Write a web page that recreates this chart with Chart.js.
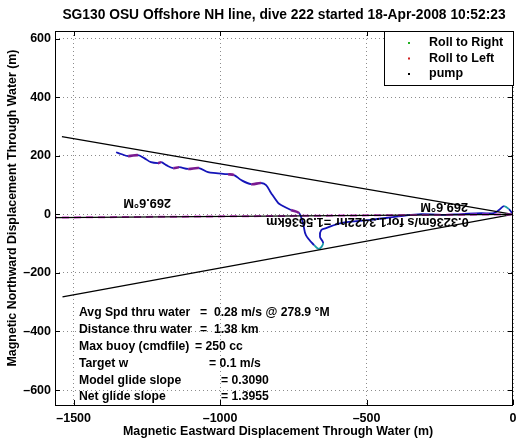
<!DOCTYPE html>
<html>
<head>
<meta charset="utf-8">
<script src="https://cdn.jsdelivr.net/npm/chart.js@4/dist/chart.umd.min.js"></script>
<style>
html, body { margin: 0; padding: 0; background: #fff; }
#wrap { width: 525px; height: 442px; }
</style>
</head>
<body>
<div id="wrap"><canvas id="diveChart" width="525" height="442"></canvas></div>
<script>
// glider track, metres east / north of dive start
const trackX = [0, -14, -31, -48, -65, -109, -177, -246, -314, -382, -485, -587, -638, -655, -659, -648, -662, -679, -707, -717, -730, -758, -792, -802, -826, -843, -860, -894, -928, -952, -973, -1014, -1041, -1072, -1109, -1140, -1160, -1184, -1201, -1212, -1236, -1259, -1280, -1314, -1338, -1355];
const trackY = [0, 18, 28, 15, 4, 4, 1, -2, 1, -6, -19, -30, -47, -54, -77, -98, -118, -105, -71, -30, 4, 15, 32, 39, 73, 100, 107, 103, 117, 134, 137, 141, 144, 158, 155, 161, 158, 168, 178, 175, 178, 192, 202, 199, 206, 212];
const rollLeftIdx = [20, 26, 29, 33, 35, 38, 42];
const turnIdx = [1, 15, 16];

// glide cone and current heading lines
const upperX = [0, -1540];
const upperY = [0, 265];
const lowerX = [0, -1538];
const lowerY = [0, -282];
const headingX = [0, -1563.6];
const headingY = [0, -10.9];

const xTicks = [-1500, -1000, -500, 0];
const yTicks = [-600, -400, -200, 0, 200, 400, 600];

const legendLabels = ['Roll to Right', 'Roll to Left', 'pump'];
const legendColors = ['#22b022', '#d02020', '#000000'];

const statLabels = ['Avg Spd thru water', 'Distance thru water', 'Max buoy (cmdfile)', 'Target w', 'Model glide slope', 'Net glide slope'];
const statValues = ['=  0.28 m/s @ 278.9 \u00b0M', '=  1.38 km', '= 250 cc', '= 0.1 m/s', '= 0.3090', '= 1.3955'];

const titleText = 'SG130 OSU Offshore NH line, dive 222 started 18-Apr-2008 10:52:23';
const xTitle = 'Magnetic Eastward Displacement Through Water (m)';
const yTitle = 'Magnetic Northward Displacement Through Water (m)';

const FONT = '"Liberation Sans", Arial, Helvetica, sans-serif';

function pts(xs, ys) {
    return xs.map((x, i) => ({ x: x, y: ys[i] }));
}

function fmt(v) {
    return String(v).replace('-', '\u2013');
}

const notes = [
    { text: '269.6\u00b0M', x: -1249, y: 42 },
    { text: '269.6\u00b0M', x: -235, y: 25 },
    { text: '0.3236m/s for1.3422hr =1.5636km', x: -497, y: -23 }
];

const statX = 79;
const statTop = 313;
const statStep = 16.8;
const statValueX = [200, 200, 195, 209, 221, 221];

const matlabFrame = {
    id: 'matlabFrame',
    afterDatasetsDraw(chart) {
        const ctx = chart.ctx;
        const xs = chart.scales.x;
        const ys = chart.scales.y;
        ctx.save();
        ctx.fillStyle = '#000';
        ctx.font = 'bold 12.8px ' + FONT;
        ctx.textAlign = 'center';
        ctx.textBaseline = 'middle';
        // upside-down heading labels
        notes.forEach(n => {
            ctx.save();
            ctx.translate(xs.getPixelForValue(n.x), ys.getPixelForValue(n.y));
            ctx.rotate(Math.PI);
            ctx.fillText(n.text, 0, 0);
            ctx.restore();
        });
        ctx.font = 'bold 12.2px ' + FONT;
        ctx.textAlign = 'left';
        statLabels.forEach((lab, i) => {
            const y = statTop + i * statStep;
            ctx.fillText(lab, statX, y);
            ctx.fillText(statValues[i], statValueX[i], y);
        });
        ctx.restore();
    },
    afterDraw(chart) {
        const ctx = chart.ctx;
        const a = chart.chartArea;
        const xs = chart.scales.x;
        const ys = chart.scales.y;
        ctx.save();
        ctx.strokeStyle = '#000';
        ctx.lineWidth = 1;
        // inward tick marks on all four sides
        ctx.beginPath();
        xTicks.forEach(v => {
            const px = Math.round(xs.getPixelForValue(v)) + 0.5;
            ctx.moveTo(px, a.bottom); ctx.lineTo(px, a.bottom - 5);
            ctx.moveTo(px, a.top); ctx.lineTo(px, a.top + 5);
        });
        yTicks.forEach(v => {
            const py = Math.round(ys.getPixelForValue(v)) + 0.5;
            ctx.moveTo(a.left, py); ctx.lineTo(a.left + 5, py);
            ctx.moveTo(a.right, py); ctx.lineTo(a.right - 5, py);
        });
        ctx.stroke();
        ctx.strokeRect(Math.round(a.left) + 0.5, Math.round(a.top) + 0.5,
            Math.round(a.right - a.left) - 1, Math.round(a.bottom - a.top));

        // legend box in the top right corner
        const lx = 384, ly = 31, lw = 129, lh = 54;
        ctx.fillStyle = '#fff';
        ctx.fillRect(lx, ly, lw, lh);
        ctx.strokeRect(lx + 0.5, ly + 0.5, lw, lh);
        ctx.font = 'bold 12.5px ' + FONT;
        ctx.textAlign = 'left';
        ctx.textBaseline = 'middle';
        legendLabels.forEach((lab, i) => {
            const y = 43 + i * 15.5;
            ctx.fillStyle = legendColors[i];
            ctx.fillRect(408, y - 1, 2, 2);
            ctx.fillStyle = '#000';
            ctx.fillText(lab, 429, y);
        });

        // titles
        ctx.fillStyle = '#000';
        ctx.textAlign = 'center';
        ctx.font = 'bold 13.8px ' + FONT;
        ctx.fillText(titleText, (a.left + a.right) / 2, 15);
        ctx.font = 'bold 12.4px ' + FONT;
        ctx.fillText(xTitle, 278, 432);
        ctx.save();
        ctx.translate(13, 208);
        ctx.rotate(-Math.PI / 2);
        ctx.fillText(yTitle, 0, 0);
        ctx.restore();
        ctx.restore();
    }
};

function createDiveChart() {
    const ctx = document.getElementById('diveChart').getContext('2d');
    const tickFont = { family: FONT, size: 12.5, weight: 'bold' };
    new Chart(ctx, {
        type: 'scatter',
        data: {
            datasets: [
                {
                    label: 'heading',
                    data: pts(headingX, headingY),
                    showLine: true,
                    borderColor: '#000',
                    borderWidth: 1.2,
                    pointRadius: 0
                },
                {
                    label: 'heading dashed',
                    data: pts(headingX, headingY),
                    showLine: true,
                    borderColor: '#e03ce0',
                    borderWidth: 2,
                    borderDash: [7, 5],
                    pointRadius: 0
                },
                {
                    label: 'upper',
                    data: pts(upperX, upperY),
                    showLine: true,
                    borderColor: '#000',
                    borderWidth: 1.3,
                    pointRadius: 0
                },
                {
                    label: 'lower',
                    data: pts(lowerX, lowerY),
                    showLine: true,
                    borderColor: '#000',
                    borderWidth: 1.3,
                    pointRadius: 0
                },
                {
                    label: 'track',
                    data: pts(trackX, trackY),
                    showLine: true,
                    borderColor: '#1414b8',
                    borderWidth: 1.8,
                    tension: 0.35,
                    pointRadius: 0,
                    segment: {
                        borderColor: c => {
                            if (rollLeftIdx.includes(c.p0DataIndex)) return '#7a1a90';
                            if (turnIdx.includes(c.p0DataIndex)) return '#1a9aa8';
                            return undefined;
                        },
                        borderWidth: c => rollLeftIdx.includes(c.p0DataIndex) ? 2.6 : undefined
                    }
                }
            ]
        },
        options: {
            responsive: false,
            animation: false,
            layout: { padding: { left: 0, top: 31, right: 12, bottom: 0 } },
            plugins: {
                legend: { display: false },
                tooltip: { enabled: false }
            },
            scales: {
                x: {
                    type: 'linear',
                    min: -1563.6,
                    max: 0,
                    afterBuildTicks: s => { s.ticks = xTicks.map(v => ({ value: v })); },
                    afterFit: s => { s.height = 37; },
                    grid: { color: '#8c8c8c', lineWidth: 1, drawTicks: false },
                    border: { display: false, dash: [1, 3] },
                    ticks: { padding: 6, color: '#000', font: tickFont, maxRotation: 0, autoSkip: false, callback: v => fmt(v) }
                },
                y: {
                    type: 'linear',
                    min: -651,
                    max: 626,
                    afterBuildTicks: s => { s.ticks = yTicks.map(v => ({ value: v })); },
                    afterFit: s => { s.width = 55; },
                    grid: { color: '#8c8c8c', lineWidth: 1, drawTicks: false },
                    border: { display: false, dash: [1, 3] },
                    ticks: { padding: 4, color: '#000', font: tickFont, autoSkip: false, callback: v => fmt(v) }
                }
            }
        },
        plugins: [matlabFrame]
    });
}

createDiveChart();
</script>
</body>
</html>
